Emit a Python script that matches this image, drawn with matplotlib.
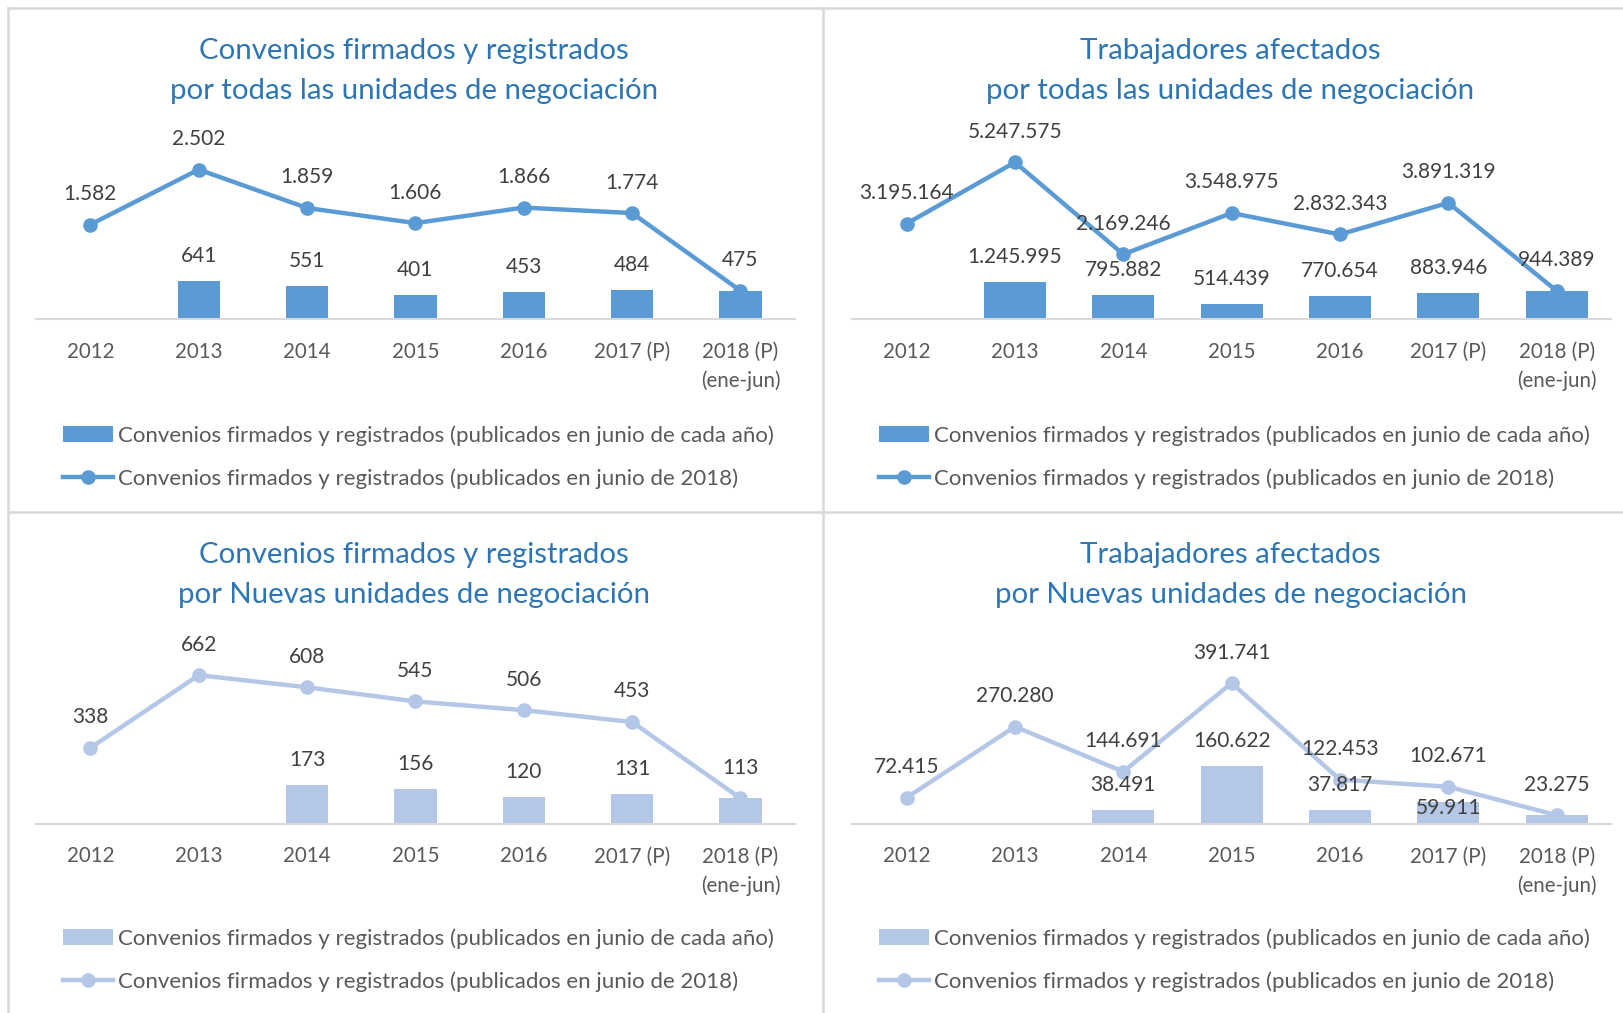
import numpy as np
import matplotlib
matplotlib.use("Agg")
import matplotlib.pyplot as plt
from matplotlib.lines import Line2D

plt.rcParams["font.family"] = ["Lato", "DejaVu Sans"]

# Data
years = ["2012", "2013", "2014", "2015", "2016", "2017 (P)", "2018 (P)\n(ene-jun)"]

conv_todas_2018 = [1582, 2502, 1859, 1606, 1866, 1774, 475]
conv_todas_anual = [np.nan, 641, 551, 401, 453, 484, 475]

trab_todas_2018 = [3195164, 5247575, 2169246, 3548975, 2832343, 3891319, 944389]
trab_todas_anual = [np.nan, 1245995, 795882, 514439, 770654, 883946, 944389]

conv_nuevas_2018 = [338, 662, 608, 545, 506, 453, 113]
conv_nuevas_anual = [np.nan, np.nan, 173, 156, 120, 131, 113]

trab_nuevas_2018 = [72415, 270280, 144691, 391741, 122453, 102671, 23275]
trab_nuevas_anual = [np.nan, np.nan, 38491, 160622, 37817, 59911, 23275]

titles = [
    "Convenios firmados y registrados\npor todas las unidades de negociación",
    "Trabajadores afectados\npor todas las unidades de negociación",
    "Convenios firmados y registrados\npor Nuevas unidades de negociación",
    "Trabajadores afectados\npor Nuevas unidades de negociación",
]
legend_bar = "Convenios firmados y registrados (publicados en junio de cada año)"
legend_line = "Convenios firmados y registrados (publicados en junio de 2018)"

DARK = "#5B9BD5"
LIGHT = "#B4C7E7"
TITLE_COLOR = "#2E75B6"
TEXT_COLOR = "#595959"
GRID_COLOR = "#D9D9D9"


def fmt(v):
    return f"{int(v):,}".replace(",", ".")


# panel settings: data, colour, y max, bar width, left, bottom, title x/y, legend y
panels = [
    (conv_todas_2018, conv_todas_anual, titles[0], DARK, 3000, 0.39, 0.0223, 0.685, 0.2551, 0.9295, 0.5490),
    (trab_todas_2018, trab_todas_anual, titles[1], DARK, 6000000, 0.57, 0.5249, 0.685, 0.7577, 0.9295, 0.5490),
    (conv_nuevas_2018, conv_nuevas_anual, titles[2], LIGHT, 800, 0.39, 0.0223, 0.187, 0.2551, 0.4326, 0.0521),
    (trab_nuevas_2018, trab_nuevas_anual, titles[3], LIGHT, 500000, 0.57, 0.5249, 0.187, 0.7577, 0.4326, 0.0521),
]

# label tweak for one overlapping bar label (panel, index) -> offset in points
bar_label_offset = {(3, 5): -4}

fig = plt.figure(figsize=(16.24, 10.13), dpi=100)

for i, (line_vals, bar_vals, title, color, ymax, bw, left, bottom, tx, ty, ly) in enumerate(panels):
    ax = fig.add_axes([left, bottom, 0.467, 0.177])
    x = np.arange(len(years))
    bars = ax.bar(x, bar_vals, width=bw, color=color, zorder=2)
    line, = ax.plot(x, line_vals, color=color, lw=3.2, marker="o", markersize=9.5,
                    zorder=3)
    ax.set_xlim(-0.5, len(years) - 0.5)
    ax.set_ylim(0, ymax)
    ax.set_xticks(x)
    ax.set_xticklabels(years, fontsize=14.8, color=TEXT_COLOR, linespacing=1.52)
    ax.tick_params(axis="x", length=0, pad=16.5)
    ax.set_yticks([])
    for s in ["top", "right", "left"]:
        ax.spines[s].set_visible(False)
    ax.spines["bottom"].set_color(GRID_COLOR)
    ax.spines["bottom"].set_linewidth(1.5)
    ax.patch.set_alpha(0)

    for j, (lv, bv) in enumerate(zip(line_vals, bar_vals)):
        ax.annotate(fmt(lv), (j, lv), xytext=(0, 22), textcoords="offset points",
                    ha="center", va="center", fontsize=15, color="#404040", zorder=4)
        if not np.isnan(bv) and bv != lv:
            off = bar_label_offset.get((i, j), 18)
            ax.annotate(fmt(bv), (j, bv), xytext=(0, off), textcoords="offset points",
                        ha="center", va="center", fontsize=15, color="#404040", zorder=4)

    fig.text(tx, ty, title, ha="center", va="center", fontsize=21.2,
             color=TITLE_COLOR, linespacing=1.66)

    leg = ax.legend([bars, line], [legend_bar, legend_line], loc="center left",
                    bbox_to_anchor=(left + 0.0166, ly), bbox_transform=fig.transFigure,
                    frameon=False, fontsize=16, handlelength=2.25, handletextpad=0.2,
                    borderpad=0, borderaxespad=0, labelspacing=1.02)
    for t in leg.get_texts():
        t.set_color(TEXT_COLOR)

# panel frame lines
for xs, ys in [([0.0051, 0.0051], [0, 0.992]),
               ([0.0051, 1.0], [0.992, 0.992]),
               ([0.507, 0.507], [0, 0.992]),
               ([0.0051, 1.0], [0.495, 0.495])]:
    fig.add_artist(Line2D(xs, ys, transform=fig.transFigure, color=GRID_COLOR, lw=1.8))

fig.savefig("out.png", dpi=100, facecolor="white")
